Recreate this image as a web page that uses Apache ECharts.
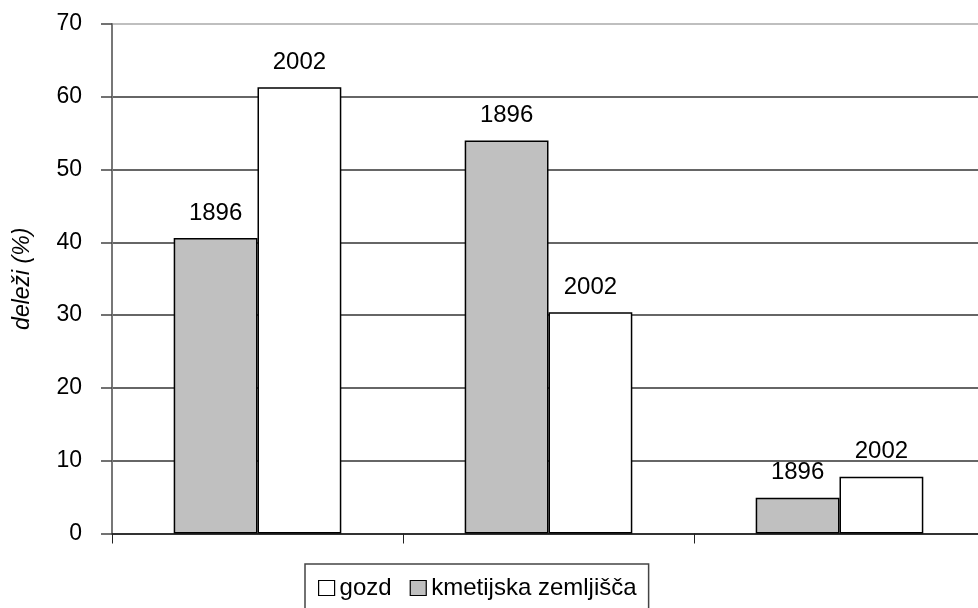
<!DOCTYPE html>
<html>
<head>
<meta charset="utf-8">
<script src="https://cdn.jsdelivr.net/npm/echarts@6/dist/echarts.min.js"></script>
<style>html,body{margin:0;padding:0;background:#fff}#c{width:978px;height:608px}</style>
</head>
<body>
<div id="c"></div>
<script>
var categories = ['A', 'B', 'C'];
var seriesNames = ['kmetijska zemljišča', 'gozd'];
var barLabels = ['1896', '2002'];
var grayValues = [40.6, 54.0, 4.9];
var whiteValues = [61.3, 30.4, 7.8];
var yTicks = [0, 10, 20, 30, 40, 50, 60, 70];
var legendOrder = ['gozd', 'kmetijska zemljišča'];
var yName = 'deleži (%)';

var FONT = '"Liberation Sans", Arial, sans-serif';
var chart = echarts.init(document.getElementById('c'));
function mkSeries(name, data, color, lab) {
  return {
    name: name, type: 'bar', data: data,
    barGap: '0%', barCategoryGap: '42.4%',
    itemStyle: { color: color, borderColor: '#000', borderWidth: 1.5 },
    label: { show: true, position: 'top', distance: 13, formatter: lab,
      color: '#000', fontSize: 24, fontFamily: FONT },
    emphasis: { disabled: true }, animation: false
  };
}
chart.setOption({
  animation: false,
  grid: { left: 112, width: 873, top: 24, height: 509.5, containLabel: false, outerBoundsMode: 'none' },
  legend: {
    data: legendOrder, left: 305, top: 564, orient: 'horizontal',
    icon: 'rect', itemWidth: 16, itemHeight: 15, itemGap: 18,
    padding: [12, 12, 12, 13],
    borderColor: '#444', borderWidth: 1.5,
    textStyle: { fontSize: 24, fontFamily: FONT, color: '#000' },
    itemStyle: { borderColor: '#000', borderWidth: 1.2 },
    selectedMode: false
  },
  xAxis: {
    type: 'category', data: categories, boundaryGap: true,
    axisLine: { show: true, lineStyle: { color: '#222', width: 1.5 } },
    axisTick: { show: true, interval: 0, length: 10, lineStyle: { color: '#222', width: 1 } },
    axisLabel: { show: false }
  },
  yAxis: {
    type: 'value', min: yTicks[0], max: yTicks[yTicks.length - 1], interval: 10,
    name: yName, nameLocation: 'middle', nameGap: 78,
    nameTextStyle: { fontSize: 23, fontStyle: 'italic', fontFamily: FONT, color: '#000' },
    axisLine: { show: true, lineStyle: { color: '#777', width: 2 } },
    axisTick: { show: true, inside: false, length: 11, lineStyle: { color: '#444', width: 1.5 } },
    axisLabel: { margin: 30, fontSize: 23, fontFamily: FONT, color: '#000' },
    splitLine: { show: true, lineStyle: { color: ['#333', '#333', '#333', '#333', '#333', '#333', '#333', '#aaa'], width: 1.5 } }
  },
  series: [
    mkSeries(seriesNames[0], grayValues, '#c0c0c0', barLabels[0]),
    mkSeries(seriesNames[1], whiteValues, '#ffffff', barLabels[1])
  ]
});
</script>
</body>
</html>
